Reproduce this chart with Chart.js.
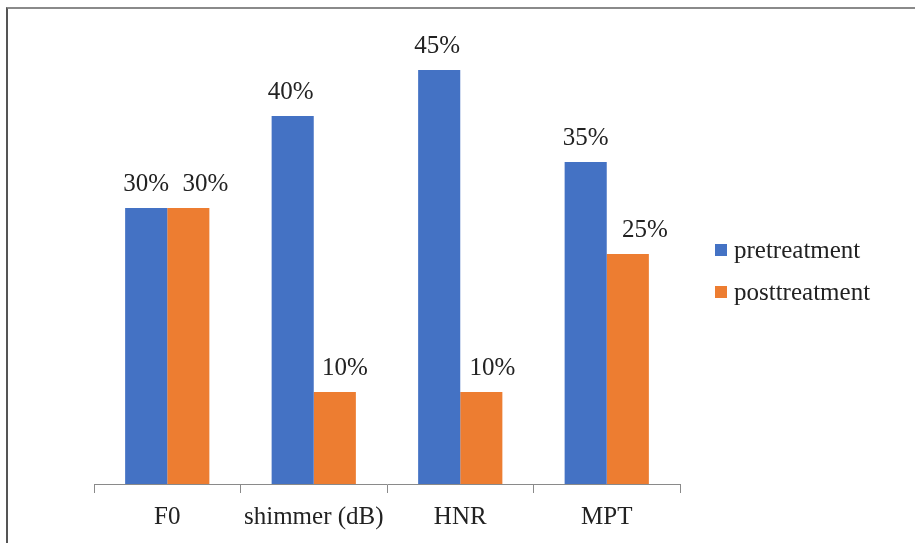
<!DOCTYPE html>
<html>
<head>
<meta charset="utf-8">
<script src="https://cdn.jsdelivr.net/npm/chart.js@4/dist/chart.umd.min.js"></script>
<style>
  html, body { margin: 0; padding: 0; background: #fff; }
  #wrap { position: relative; width: 915px; height: 543px; overflow: hidden; }
  #frame { position: absolute; left: 6px; top: 7px; right: -10px; bottom: -10px;
           border-top: 2px solid #8a8a8a; border-left: 2px solid #555; pointer-events: none; }
  canvas { position: absolute; left: 0; top: 0; }
</style>
</head>
<body>
<div id="wrap">
  <canvas id="c" width="915" height="543"></canvas>
  <div id="frame"></div>
</div>
<script>
const categories = ['F0', 'shimmer (dB)', 'HNR', 'MPT'];
const seriesNames = ['pretreatment', 'posttreatment'];
const pretreatment = [30, 40, 45, 35];
const posttreatment = [30, 10, 10, 25];
const seriesColors = ['#4472C4', '#ED7D31'];

const FONT = 'Liberation Serif, Times New Roman, serif';
// horizontal nudges of the value labels (style only), per dataset / category
const labelNudge = [[0, -2, -2, 0], [17, 10, 11, 17]];

const valueLabels = {
  id: 'valueLabels',
  afterDatasetsDraw(chart) {
    const ctx = chart.ctx;
    ctx.save();
    ctx.font = '25px ' + FONT;
    ctx.fillStyle = '#222';
    ctx.textAlign = 'center';
    ctx.textBaseline = 'alphabetic';
    chart.data.datasets.forEach((ds, i) => {
      const meta = chart.getDatasetMeta(i);
      meta.data.forEach((el, j) => {
        ctx.fillText(ds.data[j] + '%', el.x + labelNudge[i][j], el.y - 17);
      });
    });
    ctx.restore();
  }
};

const sideLegend = {
  id: 'sideLegend',
  afterDraw(chart) {
    const ctx = chart.ctx;
    ctx.save();
    ctx.font = '25px ' + FONT;
    ctx.textAlign = 'left';
    ctx.textBaseline = 'middle';
    chart.data.datasets.forEach((ds, i) => {
      const y = 250 + i * 42;
      ctx.fillStyle = ds.backgroundColor;
      ctx.fillRect(715, y - 6, 12, 12);
      ctx.fillStyle = '#222';
      ctx.fillText(ds.label, 734, y + 1);
    });
    ctx.restore();
  }
};

new Chart(document.getElementById('c'), {
  type: 'bar',
  data: {
    labels: categories,
    datasets: [
      { label: seriesNames[0], data: pretreatment, backgroundColor: seriesColors[0],
        categoryPercentage: 0.575, barPercentage: 1.0 },
      { label: seriesNames[1], data: posttreatment, backgroundColor: seriesColors[1],
        categoryPercentage: 0.575, barPercentage: 1.0 }
    ]
  },
  options: {
    responsive: false,
    animation: false,
    devicePixelRatio: 1,
    layout: { padding: { left: 94, right: 235, top: 24, bottom: 0 } },
    plugins: { legend: { display: false }, tooltip: { enabled: false } },
    scales: {
      y: { display: false, min: 0, max: 50 },
      x: {
        afterFit(scale) { scale.height = 59; },
        grid: { display: true, drawOnChartArea: false, drawTicks: true, tickLength: 9,
                color: '#8a8a8a', offset: true },
        border: { display: true, color: '#8a8a8a', width: 1 },
        ticks: { color: '#222', font: { family: FONT, size: 25 }, padding: 9, maxRotation: 0 }
      }
    }
  },
  plugins: [valueLabels, sideLegend]
});
</script>
</body>
</html>
